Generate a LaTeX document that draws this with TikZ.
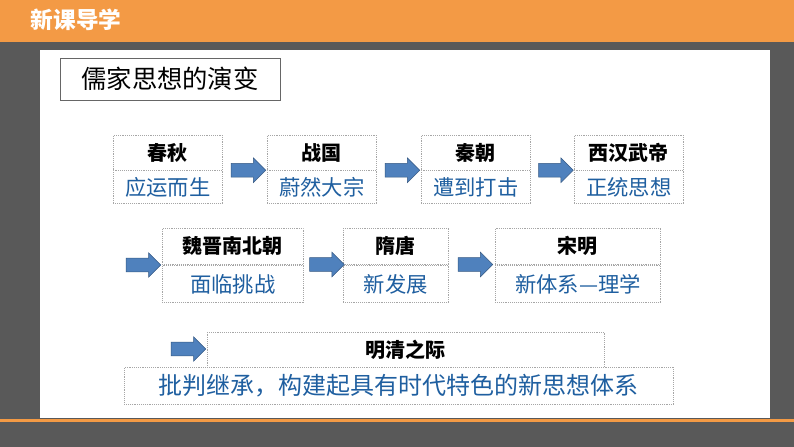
\documentclass[tikz,border=0pt]{standalone}
\usepackage{fontspec}
\setmainfont{Noto Sans CJK SC}
\usetikzlibrary{shapes.arrows,calc}
\definecolor{hdrorange}{RGB}{243,154,69}
\definecolor{bgdark}{RGB}{89,89,89}
\definecolor{txtblue}{RGB}{31,95,160}
\definecolor{arrblue}{RGB}{79,129,189}
\tikzset{
  cell/.style={draw=gray!70,densely dotted,fill=white,inner sep=0pt,anchor=north west},
  head/.style={font=\bfseries\fontsize{15}{15}\selectfont},
  body/.style={text=txtblue,font=\fontsize{16}{16}\selectfont},
  fwd/.style={single arrow,draw=arrblue!70!black,fill=arrblue,minimum height=26pt,inner xsep=0pt,inner ysep=5pt,single arrow head extend=4pt}
}
\begin{document}
\begin{tikzpicture}[x=0.75pt,y=-0.75pt]
\useasboundingbox (0,0) rectangle (794,447);
% background
\fill[bgdark] (0,0) rectangle (794,447);
\fill[hdrorange] (0,0) rectangle (794,42);
\fill[hdrorange] (0,419) rectangle (794,422);
\fill[white] (40,50) rectangle (770,418);
\node[anchor=west,text=white,font=\bfseries\fontsize{17}{17}\selectfont] (hdr) at (26,20) {新课导学};

% title box
\draw[gray!80!black,fill=white] (60,58) rectangle (280,100);
\node[font=\fontsize{19}{19}\selectfont] (title) at (170,79) {儒家思想的演变};

% row 1
\foreach \x/\h/\b/\n in {113/春秋/应运而生/a,267/战国/蔚然大宗/b,421/秦朝/遭到打击/c,574/西汉武帝/正统思想/d}{
  \node[cell,minimum width=82pt,minimum height=26pt] (\n h) at (\x,135) {};
  \node[cell,minimum width=82pt,minimum height=25pt] (\n b) at (\x,170) {};
  \node[head] at (\n h.center) {\h};
  \node[body] at (\n b.center) {\b};
}
\foreach \p/\q in {a/b,b/c,c/d}{
  \node[fwd] at ($(\p h.south east)!0.5!(\q h.south west)$) {};
}

% row 2
\foreach \x/\w/\h/\b/\n in {162/106/魏晋南北朝/面临挑战/e,343/79/隋唐/新发展/f,495/124/宋明/新体系—理学/g}{
  \node[cell,minimum width=\w pt,minimum height=27pt] (\n h) at (\x,228) {};
  \node[cell,minimum width=\w pt,minimum height=28pt] (\n b) at (\x,265) {};
  \node[head] at (\n h.center) {\h};
  \node[body] at (\n b.center) {\b};
}
\node[fwd] (ae) at (140,265) {};
\node[fwd] at ($(eh.south east)!0.5!(fh.south west)$) {};
\node[fwd] at ($(fh.south east)!0.5!(gh.south west)$) {};

% row 3
\node[cell,minimum width=298pt,minimum height=26pt] (mh) at (207,332) {};
\node[cell,minimum width=412pt,minimum height=28pt] (mb) at (124,367) {};
\node[head] at (mh.center) {明清之际};
\node[body,font=\fontsize{18}{18}\selectfont] at (mb.center) {批判继承，构建起具有时代特色的新思想体系};
\node[fwd] (am) at (185,349) {};
\end{tikzpicture}
\end{document}
